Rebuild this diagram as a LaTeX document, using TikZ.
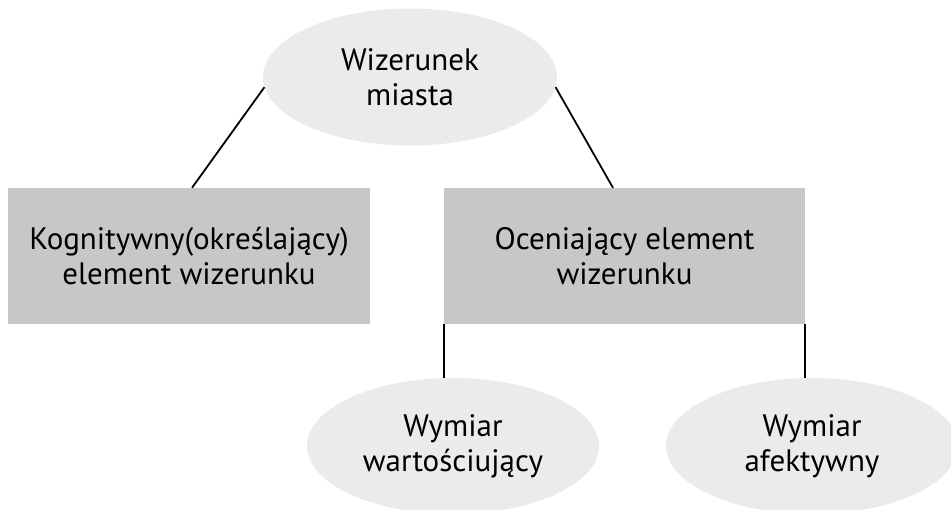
\documentclass[tikz,border=0pt]{standalone}
\usepackage{fontspec}
\setmainfont{PT Sans}
\usetikzlibrary{shapes.geometric}
\definecolor{ellfill}{HTML}{EBEBEB}
\definecolor{boxfill}{HTML}{C6C7C9}
\tikzset{
  ell/.style={ellipse, fill=ellfill, inner sep=0pt, align=center, font=\fontsize{31}{35}\selectfont},
  gbox/.style={rectangle, fill=boxfill, inner sep=0pt, align=center, font=\fontsize{31}{35}\selectfont},
  conn/.style={line width=1.8pt, black}
}
\begin{document}
\begin{tikzpicture}[x=1pt,y=-1pt]
\useasboundingbox (0,0) rectangle (951,509);
\node[ell, minimum width=294pt, minimum height=137pt] (top) at (410,77) {Wizerunek\\miasta};
\node[gbox, minimum width=362pt, minimum height=136pt] (kog) at (189,256) {Kognitywny(określający)\\element wizerunku};
\node[gbox, minimum width=361pt, minimum height=136pt] (oce) at (624.5,256) {Oceniający element\\wizerunku};
\node[ell, minimum width=292pt, minimum height=136pt] (wart) at (453,446) {Wymiar\\wartościujący};
\node[ell, minimum width=292pt, minimum height=136pt] (afek) at (812,446) {Wymiar\\afektywny};
\draw[conn] (top.184) -- (kog.north -| 192,0);
\draw[conn] (top.356) -- (oce.north -| 613,0);
\draw[conn] (oce.south west) -- (oce.south west |- wart.north);
\draw[conn] (oce.south east) -- (oce.south east |- afek.north);
\end{tikzpicture}
\end{document}
